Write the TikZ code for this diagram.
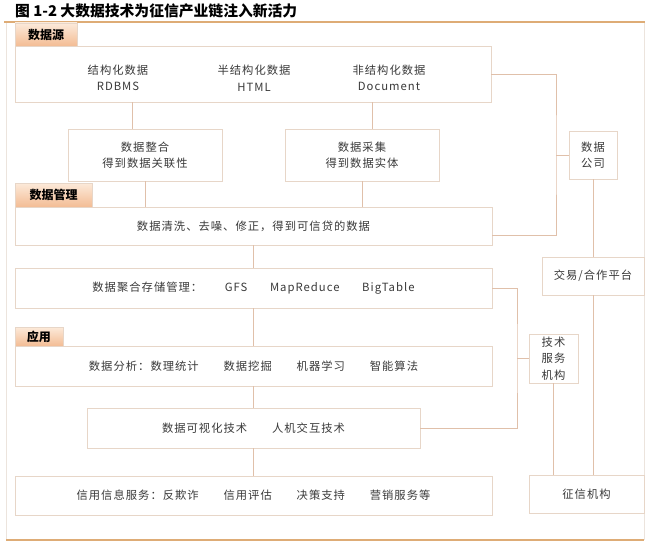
\documentclass[tikz,border=0pt]{standalone}
\usepackage{fontspec}
\setmainfont{Noto Sans CJK SC}
\newfontfamily\bodyfont[LetterSpace=9]{Noto Sans CJK SC}
\definecolor{boxline}{RGB}{231,214,200}
\definecolor{linkcol}{RGB}{224,192,170}
\definecolor{tagtop}{RGB}{252,234,218}
\definecolor{tagbot}{RGB}{243,188,148}
\definecolor{rulecol}{RGB}{222,172,118}
\definecolor{sidecol}{RGB}{236,228,221}
\definecolor{txtgray}{RGB}{58,58,58}
\tikzstyle{box}=[draw=boxline,line width=0.8pt,fill=white,inner sep=0pt,align=center,text=txtgray,font=\bodyfont\fontsize{11.3}{16.5}\selectfont]
\tikzstyle{item}=[inner sep=0pt,align=center,text=txtgray,font=\bodyfont\fontsize{11.3}{16.5}\selectfont]
\tikzstyle{tag}=[draw=boxline,line width=0.6pt,top color=tagtop,bottom color=tagbot,inner sep=0pt,font=\fontsize{12}{13}\selectfont\bfseries]
\tikzstyle{link}=[draw=linkcol,line width=0.8pt]

\begin{document}
\begin{tikzpicture}[x=1pt,y=-1pt]
\useasboundingbox (0,0) rectangle (651,543);
\draw[sidecol,line width=0.8pt] (6,22) -- (6,540) (644,22) -- (644,540);
\draw[rulecol,line width=1.5pt] (4,22) -- (645,22);
\draw[rulecol,line width=1.2pt] (6,540) -- (644,540);
\node[anchor=west,inner sep=0pt,font=\fontsize{14.8}{16}\selectfont\bfseries] at (15,11) (title) {图 1-2 大数据技术为征信产业链注入新活力};

\node[box,minimum width=476pt,minimum height=56pt] at (253,74) (src) {};
\node[tag,minimum width=62pt,minimum height=23pt] at (46,34.5) (srctag) {数据源};
\node[item] at (118,78) (struct) {结构化数据\\RDBMS};
\node[item] at (254,78) (semi) {半结构化数据\\HTML};
\node[item] at (389,78) (unstruct) {非结构化数据\\Document};
\node[box,minimum width=154pt,minimum height=52pt] at (145,155) (integ) {数据整合\\得到数据关联性};
\node[box,minimum width=154pt,minimum height=52pt] at (362,155) (coll) {数据采集\\得到数据实体};

\node[box,minimum width=477pt,minimum height=38pt] at (253.5,226) (clean) {数据清洗、去噪、修正，得到可信贷的数据};
\node[tag,minimum width=77pt,minimum height=24pt] at (53.5,195) (mgmttag) {数据管理};
\node[box,minimum width=477pt,minimum height=40pt] at (253.5,288) (store) {数据聚合存储管理：\hspace{2em}GFS\hspace{2em}MapReduce\hspace{2em}BigTable};

\node[box,minimum width=477pt,minimum height=40pt] at (253.5,366) (anal) {数据分析：数理统计\hspace{2.2em}数据挖掘\hspace{2.2em}机器学习\hspace{2.2em}智能算法};
\node[tag,minimum width=48pt,minimum height=19pt] at (39,336.5) (apptag) {应用};
\node[box,minimum width=333pt,minimum height=40pt] at (253.5,428) (vis) {数据可视化技术\hspace{2.2em}人机交互技术};
\node[box,minimum width=477pt,minimum height=39pt] at (253.5,495.5) (credit) {信用信息服务：反欺诈\hspace{2.2em}信用评估\hspace{2.2em}决策支持\hspace{2.2em}营销服务等};

\node[box,minimum width=48pt,minimum height=48pt] at (593,155) (company) {数据\\公司};
\node[box,minimum width=102pt,minimum height=38pt] at (593,276) (trade) {交易/合作平台};
\node[box,minimum width=49pt,minimum height=49pt] at (553.5,358.5) (tech) {技术\\服务\\机构};
\node[box,minimum width=115pt,minimum height=38pt] at (586.5,494) (agency) {征信机构};

\coordinate (busA) at (556,155);
\coordinate (busB) at (517,358.5);

\draw[link] ([xshift=-13pt]integ.north) -- ([xshift=-13pt]integ.north |- src.south);
\draw[link] ([xshift=10pt]coll.north) -- ([xshift=10pt]coll.north |- src.south);
\draw[link] (integ.south) -- (integ.south |- clean.north);
\draw[link] (coll.south) -- (coll.south |- clean.north);
\draw[link] (clean.south) -- (store.north);
\draw[link] (store.south) -- (anal.north);
\draw[link] (anal.south) -- (vis.north);
\draw[link] (vis.south) -- (credit.north);
\draw[link] (src.east) -| (busA) |- ([yshift=-9pt]clean.east);
\draw[link] (busA) -- (company.west);
\draw[link] (store.east) -| (busB) |- (vis.east);
\draw[link] (busB) -- (tech.west);
\draw[link] (company.south) -- (trade.north);
\draw[link] (trade.south) -- (trade.south |- agency.north);
\draw[link] (tech.south) -- (tech.south |- agency.north);
\end{tikzpicture}
\end{document}
